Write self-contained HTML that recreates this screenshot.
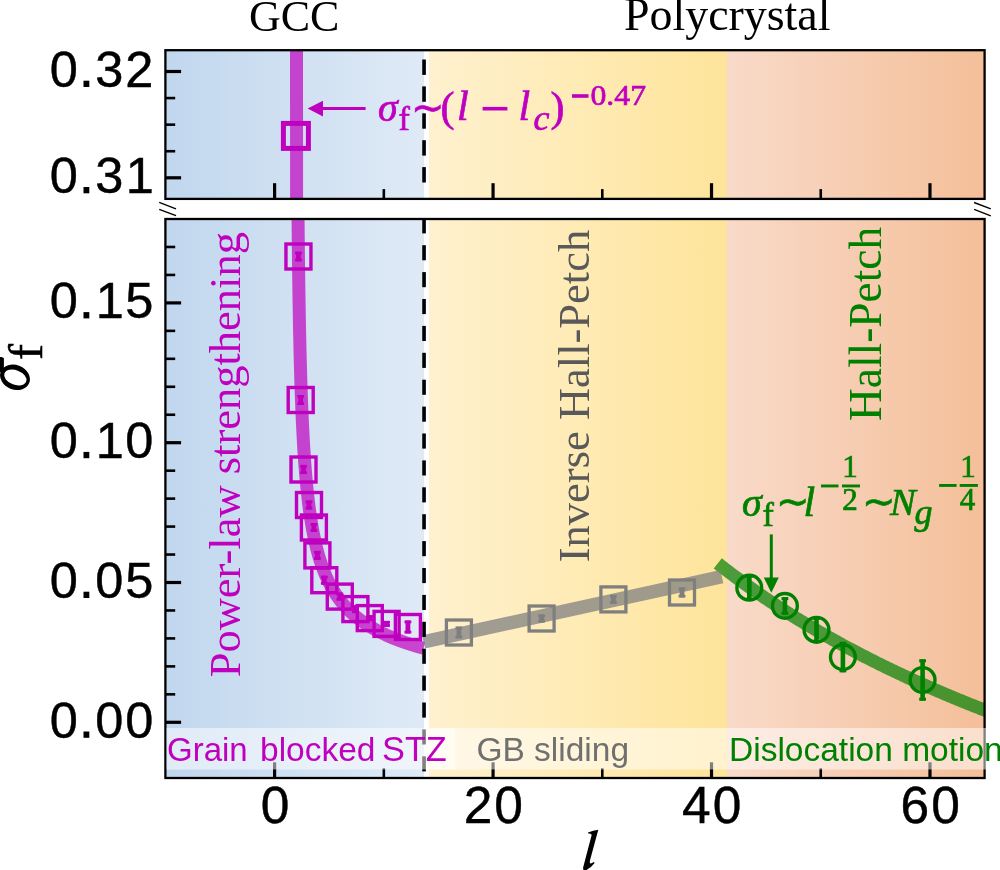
<!DOCTYPE html><html><head><meta charset="utf-8"><style>html,body{margin:0;padding:0;background:#fff;overflow:hidden}svg{display:block;will-change:transform}</style></head><body>
<svg width="1000" height="870" viewBox="0 0 1000 870">
<defs>
<linearGradient id="gb" x1="0" x2="1" y1="0" y2="0"><stop offset="0" stop-color="#c1d7ee"/><stop offset="1" stop-color="#dfeaf6"/></linearGradient>
<linearGradient id="gy" x1="0" x2="1" y1="0" y2="0"><stop offset="0" stop-color="#fff1cf"/><stop offset="1" stop-color="#fee49a"/></linearGradient>
<linearGradient id="gs" x1="0" x2="1" y1="0" y2="0"><stop offset="0" stop-color="#f9dac9"/><stop offset="1" stop-color="#f4bf99"/></linearGradient>
<clipPath id="ct"><rect x="165.4" y="50.2" width="819.2" height="148.7"/></clipPath>
<clipPath id="cl"><rect x="165.4" y="219.0" width="819.2" height="559.0"/></clipPath>
</defs>
<rect x="165.4" y="50.2" width="258.70000000000005" height="148.7" fill="url(#gb)"/>
<rect x="429.0" y="50.2" width="298.0" height="148.7" fill="url(#gy)"/>
<rect x="727.0" y="50.2" width="257.6" height="148.7" fill="url(#gs)"/>
<rect x="165.4" y="219.0" width="258.70000000000005" height="559.0" fill="url(#gb)"/>
<rect x="429.0" y="219.0" width="298.0" height="559.0" fill="url(#gy)"/>
<rect x="727.0" y="219.0" width="257.6" height="559.0" fill="url(#gs)"/>
<g clip-path="url(#cl)"><polyline points="296.29,-396.10 296.29,-392.64 296.29,-389.18 296.29,-385.72 296.30,-382.26 296.30,-378.80 296.30,-375.34 296.30,-371.88 296.31,-368.42 296.31,-364.96 296.31,-361.50 296.32,-358.04 296.32,-354.58 296.32,-351.12 296.32,-347.66 296.33,-344.20 296.33,-340.74 296.33,-337.28 296.34,-333.82 296.34,-330.36 296.34,-326.90 296.35,-323.44 296.35,-319.98 296.35,-316.52 296.36,-313.06 296.36,-309.60 296.36,-306.14 296.37,-302.68 296.37,-299.22 296.37,-295.76 296.38,-292.30 296.38,-288.84 296.38,-285.38 296.39,-281.92 296.39,-278.46 296.39,-275.00 296.40,-271.54 296.40,-268.08 296.41,-264.62 296.41,-261.16 296.41,-257.70 296.42,-254.24 296.42,-250.78 296.43,-247.32 296.43,-243.86 296.43,-240.40 296.44,-236.94 296.44,-233.48 296.45,-230.02 296.45,-226.56 296.46,-223.10 296.46,-219.64 296.46,-216.18 296.47,-212.72 296.47,-209.26 296.48,-205.80 296.48,-202.34 296.49,-198.88 296.49,-195.42 296.50,-191.96 296.50,-188.50 296.51,-185.04 296.51,-181.58 296.52,-178.12 296.52,-174.66 296.53,-171.20 296.53,-167.74 296.54,-164.28 296.54,-160.82 296.55,-157.36 296.56,-153.90 296.56,-150.44 296.57,-146.98 296.57,-143.52 296.58,-140.06 296.58,-136.61 296.59,-133.15 296.60,-129.69 296.60,-126.23 296.61,-122.77 296.61,-119.31 296.62,-115.85 296.63,-112.39 296.63,-108.93 296.64,-105.47 296.65,-102.01 296.65,-98.55 296.66,-95.09 296.67,-91.63 296.68,-88.17 296.68,-84.71 296.69,-81.25 296.70,-77.79 296.70,-74.33 296.71,-70.87 296.72,-67.41 296.73,-63.95 296.74,-60.49 296.74,-57.03 296.75,-53.57 296.76,-50.11 296.77,-46.65 296.78,-43.19 296.79,-39.73 296.79,-36.27 296.80,-32.81 296.81,-29.35 296.82,-25.89 296.83,-22.43 296.84,-18.97 296.85,-15.51 296.86,-12.05 296.87,-8.59 296.88,-5.13 296.89,-1.67 296.90,1.79 296.91,5.25 296.92,8.71 296.93,12.17 296.94,15.63 296.95,19.09 296.96,22.55 296.98,26.01 296.99,29.47 297.00,32.93 297.01,36.39 297.02,39.85 297.04,43.31 297.05,46.77 297.06,50.23 297.07,53.69 297.09,57.15 297.10,60.61 297.11,64.07 297.13,67.53 297.14,70.99 297.16,74.45 297.17,77.91 297.19,81.37 297.20,84.83 297.22,88.29 297.23,91.75 297.25,95.21 297.26,98.67 297.28,102.13 297.30,105.59 297.31,109.05 297.33,112.51 297.35,115.97 297.37,119.43 297.38,122.89 297.40,126.35 297.42,129.81 297.44,133.27 297.46,136.73 297.48,140.19 297.50,143.65 297.52,147.11 297.54,150.57 297.56,154.03 297.59,157.49 297.61,160.95 297.63,164.41 297.65,167.87 297.68,171.33 297.70,174.79 297.73,178.25 297.75,181.71 297.78,185.17 297.80,188.63 297.83,192.09 297.86,195.55 297.88,199.01 297.91,202.47 297.94,205.93 297.97,209.39 298.00,212.85 298.03,216.31 298.06,219.77 298.10,223.23 298.13,226.69 298.16,230.15 298.20,233.61 298.23,237.07 298.27,240.53 298.30,243.99 298.34,247.45 298.38,250.91 298.42,254.37 298.46,257.83 298.50,261.29 298.54,264.75 298.59,268.21 298.63,271.67 298.68,275.13 298.72,278.59 298.77,282.05 298.82,285.51 298.87,288.97 298.92,292.43 298.97,295.89 299.03,299.35 299.08,302.81 299.14,306.27 299.20,309.73 299.26,313.19 299.32,316.65 299.38,320.11 299.45,323.57 299.51,327.03 299.58,330.49 299.65,333.95 299.72,337.41 299.80,340.87 299.88,344.33 299.95,347.79 300.04,351.25 300.12,354.71 300.21,358.17 300.29,361.63 300.39,365.09 300.48,368.55 300.58,372.01 300.68,375.47 300.78,378.93 300.89,382.38 301.00,385.84 301.11,389.30 301.23,392.76 301.35,396.22 301.47,399.68 301.60,403.14 301.74,406.60 301.88,410.06 302.02,413.52 302.17,416.98 302.32,420.44 302.48,423.90 302.65,427.36 302.82,430.82 303.00,434.28 303.18,437.74 303.38,441.20 303.58,444.66 303.78,448.12 304.00,451.58 304.22,455.04 304.46,458.50 304.70,461.96 304.96,465.42 305.22,468.88 305.50,472.34 305.79,475.80 306.09,479.26 306.41,482.72 306.74,486.18 307.08,489.64 307.45,493.10 307.83,496.56 308.23,500.02 308.64,503.48 309.08,506.94 309.55,510.40 310.03,513.86 310.55,517.32 311.09,520.78 311.66,524.24 312.26,527.70 312.90,531.16 313.57,534.62 314.29,538.08 315.04,541.54 315.85,545.00 316.70,548.46 317.61,551.92 318.58,555.38 319.62,558.84 320.72,562.30 321.90,565.76 323.17,569.22 324.53,572.68 325.99,576.14 327.57,579.60 329.26,583.06 331.10,586.52 333.09,589.98 335.24,593.44 337.59,596.90 340.15,600.36 342.94,603.82 346.01,607.28 349.37,610.74 353.08,614.20 357.18,617.66 361.72,621.12 366.78,624.58 372.43,628.04 378.77,631.50 385.92,634.96 394.00,638.42 394.15,638.48 394.30,638.54 394.45,638.60 394.60,638.66 394.74,638.72 394.89,638.78 395.04,638.83 395.19,638.89 395.34,638.95 395.49,639.01 395.64,639.07 395.78,639.13 395.93,639.19 396.08,639.24 396.23,639.30 396.38,639.36 396.53,639.42 396.68,639.47 396.83,639.53 396.97,639.59 397.12,639.65 397.27,639.70 397.42,639.76 397.57,639.82 397.72,639.87 397.87,639.93 398.02,639.99 398.16,640.04 398.31,640.10 398.46,640.15 398.61,640.21 398.76,640.27 398.91,640.32 399.06,640.38 399.20,640.43 399.35,640.49 399.50,640.54 399.65,640.60 399.80,640.65 399.95,640.71 400.10,640.76 400.25,640.82 400.39,640.87 400.54,640.93 400.69,640.98 400.84,641.04 400.99,641.09 401.14,641.14 401.29,641.20 401.43,641.25 401.58,641.30 401.73,641.36 401.88,641.41 402.03,641.46 402.18,641.52 402.33,641.57 402.48,641.62 402.62,641.68 402.77,641.73 402.92,641.78 403.07,641.83 403.22,641.89 403.37,641.94 403.52,641.99 403.67,642.04 403.81,642.10 403.96,642.15 404.11,642.20 404.26,642.25 404.41,642.30 404.56,642.35 404.71,642.41 404.85,642.46 405.00,642.51 405.15,642.56 405.30,642.61 405.45,642.66 405.60,642.71 405.75,642.76 405.90,642.81 406.04,642.86 406.19,642.91 406.34,642.96 406.49,643.01 406.64,643.06 406.79,643.11 406.94,643.16 407.09,643.21 407.23,643.26 407.38,643.31 407.53,643.36 407.68,643.41 407.83,643.46 407.98,643.51 408.13,643.56 408.27,643.61 408.42,643.66 408.57,643.71 408.72,643.75 408.87,643.80 409.02,643.85 409.17,643.90 409.32,643.95 409.46,644.00 409.61,644.04 409.76,644.09 409.91,644.14 410.06,644.19 410.21,644.24 410.36,644.28 410.51,644.33 410.65,644.38 410.80,644.43 410.95,644.47 411.10,644.52 411.25,644.57 411.40,644.61 411.55,644.66 411.69,644.71 411.84,644.76 411.99,644.80 412.14,644.85 412.29,644.90 412.44,644.94 412.59,644.99 412.74,645.03 412.88,645.08 413.03,645.13 413.18,645.17 413.33,645.22 413.48,645.26 413.63,645.31 413.78,645.36 413.92,645.40 414.07,645.45 414.22,645.49 414.37,645.54 414.52,645.58 414.67,645.63 414.82,645.67 414.97,645.72 415.11,645.76 415.26,645.81 415.41,645.85 415.56,645.90 415.71,645.94 415.86,645.99 416.01,646.03 416.16,646.07 416.30,646.12 416.45,646.16 416.60,646.21 416.75,646.25 416.90,646.30 417.05,646.34 417.20,646.38 417.34,646.43 417.49,646.47 417.64,646.51 417.79,646.56 417.94,646.60 418.09,646.64 418.24,646.69 418.39,646.73 418.53,646.77 418.68,646.82 418.83,646.86 418.98,646.90 419.13,646.94 419.28,646.99 419.43,647.03 419.58,647.07 419.72,647.12 419.87,647.16 420.02,647.20 420.17,647.24 420.32,647.28 420.47,647.33 420.62,647.37 420.76,647.41 420.91,647.45 421.06,647.49 421.21,647.54 421.36,647.58 421.51,647.62 421.66,647.66 421.81,647.70 421.95,647.74 422.10,647.78 422.25,647.83 422.40,647.87 422.55,647.91 422.70,647.95 422.85,647.99 422.99,648.03 423.14,648.07 423.29,648.11 423.44,648.15 423.59,648.19" fill="none" stroke="#bf00bf" stroke-opacity="0.7" stroke-width="13" stroke-linejoin="round"/></g>
<g clip-path="url(#ct)"><polyline points="296.42,-239.58 296.42,-226.42 296.43,-213.27 296.43,-200.12 296.43,-186.96 296.44,-173.81 296.44,-160.65 296.45,-147.50 296.45,-134.35 296.46,-121.19 296.46,-108.04 296.46,-94.88 296.47,-81.73 296.47,-68.57 296.48,-55.42 296.48,-42.27 296.49,-29.11 296.49,-15.96 296.50,-2.80 296.50,10.35 296.51,23.51 296.51,36.66 296.52,49.81 296.52,62.97 296.53,76.12 296.53,89.28 296.54,102.43 296.54,115.58 296.55,128.74 296.56,141.89 296.56,155.05 296.57,168.20 296.57,181.36 296.58,194.51 296.58,207.66 296.59,220.82 296.60,233.97 296.60,247.13 296.61,260.28 296.61,273.43 296.62,286.59 296.63,299.74 296.63,312.90 296.64,326.05 296.65,339.21 296.65,352.36 296.66,365.51 296.67,378.67 296.68,391.82 296.68,404.98 296.69,418.13 296.70,431.28 296.70,444.44 296.71,457.59 296.72,470.75 296.73,483.90 296.74,497.06 296.74,510.21 296.75,523.36 296.76,536.52 296.77,549.67 296.78,562.83 296.79,575.98 296.79,589.13 296.80,602.29 296.81,615.44 296.82,628.60 296.83,641.75 296.84,654.91 296.85,668.06 296.86,681.21 296.87,694.37 296.88,707.52 296.89,720.68 296.90,733.83 296.91,746.98 296.92,760.14 296.93,773.29 296.94,786.45 296.95,799.60 296.96,812.76 296.98,825.91 296.99,839.06 297.00,852.22 297.01,865.37 297.02,878.53 297.04,891.68 297.05,904.84 297.06,917.99 297.07,931.14 297.09,944.30 297.10,957.45 297.11,970.61 297.13,983.76 297.14,996.91 297.16,1010.07 297.17,1023.22 297.19,1036.38 297.20,1049.53 297.22,1062.69 297.23,1075.84 297.25,1088.99 297.26,1102.15 297.28,1115.30 297.30,1128.46 297.31,1141.61 297.33,1154.76 297.35,1167.92 297.37,1181.07 297.38,1194.23 297.40,1207.38 297.42,1220.54 297.44,1233.69 297.46,1246.84 297.48,1260.00 297.50,1273.15 297.52,1286.31 297.54,1299.46 297.56,1312.61 297.59,1325.77 297.61,1338.92 297.63,1352.08 297.65,1365.23 297.68,1378.39 297.70,1391.54 297.73,1404.69 297.75,1417.85 297.78,1431.00 297.80,1444.16 297.83,1457.31 297.86,1470.46 297.88,1483.62 297.91,1496.77 297.94,1509.93 297.97,1523.08 298.00,1536.24 298.03,1549.39 298.06,1562.54 298.10,1575.70 298.13,1588.85 298.16,1602.01 298.20,1615.16 298.23,1628.32 298.27,1641.47 298.30,1654.62 298.34,1667.78 298.38,1680.93 298.42,1694.09 298.46,1707.24 298.50,1720.39 298.54,1733.55 298.59,1746.70 298.63,1759.86 298.68,1773.01 298.72,1786.17 298.77,1799.32 298.82,1812.47 298.87,1825.63 298.92,1838.78 298.97,1851.94 299.03,1865.09 299.08,1878.24 299.14,1891.40 299.20,1904.55 299.26,1917.71 299.32,1930.86 299.38,1944.02 299.45,1957.17 299.51,1970.32 299.58,1983.48 299.65,1996.63 299.72,2009.79 299.80,2022.94 299.88,2036.09 299.95,2049.25 300.04,2062.40 300.12,2075.56 300.21,2088.71 300.29,2101.87 300.39,2115.02 300.48,2128.17 300.58,2141.33 300.68,2154.48 300.78,2167.64 300.89,2180.79 301.00,2193.94 301.11,2207.10 301.23,2220.25 301.35,2233.41 301.47,2246.56 301.60,2259.72 301.74,2272.87 301.88,2286.02 302.02,2299.18 302.17,2312.33 302.32,2325.49 302.48,2338.64 302.65,2351.79 302.82,2364.95 303.00,2378.10 303.18,2391.26 303.38,2404.41 303.58,2417.57 303.78,2430.72 304.00,2443.87 304.22,2457.03 304.46,2470.18 304.70,2483.34 304.96,2496.49 305.22,2509.65 305.50,2522.80 305.79,2535.95 306.09,2549.11 306.41,2562.26 306.74,2575.42 307.08,2588.57 307.45,2601.72 307.83,2614.88 308.23,2628.03 308.64,2641.19 309.08,2654.34 309.55,2667.50 310.03,2680.65 310.55,2693.80 311.09,2706.96 311.66,2720.11 312.26,2733.27 312.90,2746.42 313.57,2759.57 314.29,2772.73 315.04,2785.88 315.85,2799.04 316.70,2812.19 317.61,2825.35 318.58,2838.50 319.62,2851.65 320.72,2864.81 321.90,2877.96 323.17,2891.12 324.53,2904.27 325.99,2917.42 327.57,2930.58 329.26,2943.73 331.10,2956.89 333.09,2970.04 335.24,2983.20 337.59,2996.35 340.15,3009.50 342.94,3022.66 346.01,3035.81 349.37,3048.97 353.08,3062.12 357.18,3075.27 361.72,3088.43 366.78,3101.58 372.43,3114.74 378.77,3127.89 385.92,3141.05 394.00,3154.20 394.15,3154.43 394.30,3154.65 394.45,3154.88 394.60,3155.10 394.74,3155.33 394.89,3155.55 395.04,3155.78 395.19,3156.00 395.34,3156.22 395.49,3156.45 395.64,3156.67 395.78,3156.89 395.93,3157.11 396.08,3157.33 396.23,3157.55 396.38,3157.77 396.53,3157.99 396.68,3158.21 396.83,3158.43 396.97,3158.64 397.12,3158.86 397.27,3159.08 397.42,3159.29 397.57,3159.51 397.72,3159.73 397.87,3159.94 398.02,3160.15 398.16,3160.37 398.31,3160.58 398.46,3160.79 398.61,3161.01 398.76,3161.22 398.91,3161.43 399.06,3161.64 399.20,3161.85 399.35,3162.06 399.50,3162.27 399.65,3162.48 399.80,3162.69 399.95,3162.90 400.10,3163.11 400.25,3163.32 400.39,3163.52 400.54,3163.73 400.69,3163.94 400.84,3164.14 400.99,3164.35 401.14,3164.55 401.29,3164.76 401.43,3164.96 401.58,3165.17 401.73,3165.37 401.88,3165.57 402.03,3165.77 402.18,3165.98 402.33,3166.18 402.48,3166.38 402.62,3166.58 402.77,3166.78 402.92,3166.98 403.07,3167.18 403.22,3167.38 403.37,3167.58 403.52,3167.78 403.67,3167.98 403.81,3168.17 403.96,3168.37 404.11,3168.57 404.26,3168.76 404.41,3168.96 404.56,3169.16 404.71,3169.35 404.85,3169.55 405.00,3169.74 405.15,3169.93 405.30,3170.13 405.45,3170.32 405.60,3170.51 405.75,3170.71 405.90,3170.90 406.04,3171.09 406.19,3171.28 406.34,3171.47 406.49,3171.66 406.64,3171.85 406.79,3172.04 406.94,3172.23 407.09,3172.42 407.23,3172.61 407.38,3172.80 407.53,3172.99 407.68,3173.18 407.83,3173.36 407.98,3173.55 408.13,3173.74 408.27,3173.92 408.42,3174.11 408.57,3174.29 408.72,3174.48 408.87,3174.66 409.02,3174.85 409.17,3175.03 409.32,3175.22 409.46,3175.40 409.61,3175.58 409.76,3175.77 409.91,3175.95 410.06,3176.13 410.21,3176.31 410.36,3176.49 410.51,3176.67 410.65,3176.85 410.80,3177.03 410.95,3177.21 411.10,3177.39 411.25,3177.57 411.40,3177.75 411.55,3177.93 411.69,3178.11 411.84,3178.29 411.99,3178.46 412.14,3178.64 412.29,3178.82 412.44,3178.99 412.59,3179.17 412.74,3179.35 412.88,3179.52 413.03,3179.70 413.18,3179.87 413.33,3180.05 413.48,3180.22 413.63,3180.39 413.78,3180.57 413.92,3180.74 414.07,3180.91 414.22,3181.09 414.37,3181.26 414.52,3181.43 414.67,3181.60 414.82,3181.77 414.97,3181.95 415.11,3182.12 415.26,3182.29 415.41,3182.46 415.56,3182.63 415.71,3182.80 415.86,3182.96 416.01,3183.13 416.16,3183.30 416.30,3183.47 416.45,3183.64 416.60,3183.81 416.75,3183.97 416.90,3184.14 417.05,3184.31 417.20,3184.47 417.34,3184.64 417.49,3184.81 417.64,3184.97 417.79,3185.14 417.94,3185.30 418.09,3185.47 418.24,3185.63 418.39,3185.79 418.53,3185.96 418.68,3186.12 418.83,3186.28 418.98,3186.45 419.13,3186.61 419.28,3186.77 419.43,3186.93 419.58,3187.10 419.72,3187.26 419.87,3187.42 420.02,3187.58 420.17,3187.74 420.32,3187.90 420.47,3188.06 420.62,3188.22 420.76,3188.38 420.91,3188.54 421.06,3188.70 421.21,3188.86 421.36,3189.01 421.51,3189.17 421.66,3189.33 421.81,3189.49 421.95,3189.65 422.10,3189.80 422.25,3189.96 422.40,3190.12 422.55,3190.27 422.70,3190.43 422.85,3190.58 422.99,3190.74 423.14,3190.89 423.29,3191.05 423.44,3191.20 423.59,3191.36" fill="none" stroke="#bf00bf" stroke-opacity="0.7" stroke-width="13"/></g>
<g clip-path="url(#cl)"><polyline points="717.75,563.37 719.14,564.47 720.54,565.56 721.93,566.65 723.33,567.73 724.73,568.81 726.12,569.88 727.52,570.95 728.91,572.01 730.31,573.07 731.70,574.12 733.10,575.17 734.50,576.21 735.89,577.25 737.29,578.28 738.68,579.31 740.08,580.34 741.48,581.36 742.87,582.37 744.27,583.39 745.66,584.39 747.06,585.39 748.45,586.39 749.85,587.38 751.25,588.37 752.64,589.36 754.04,590.34 755.43,591.31 756.83,592.29 758.23,593.25 759.62,594.22 761.02,595.18 762.41,596.13 763.81,597.08 765.20,598.03 766.60,598.97 768.00,599.91 769.39,600.84 770.79,601.78 772.18,602.70 773.58,603.63 774.98,604.54 776.37,605.46 777.77,606.37 779.16,607.28 780.56,608.18 781.95,609.08 783.35,609.98 784.75,610.87 786.14,611.76 787.54,612.65 788.93,613.53 790.33,614.41 791.73,615.28 793.12,616.16 794.52,617.02 795.91,617.89 797.31,618.75 798.70,619.61 800.10,620.46 801.50,621.31 802.89,622.16 804.29,623.00 805.68,623.84 807.08,624.68 808.48,625.51 809.87,626.34 811.27,627.17 812.66,628.00 814.06,628.82 815.45,629.63 816.85,630.45 818.25,631.26 819.64,632.07 821.04,632.87 822.43,633.68 823.83,634.48 825.23,635.27 826.62,636.07 828.02,636.86 829.41,637.64 830.81,638.43 832.20,639.21 833.60,639.99 835.00,640.76 836.39,641.53 837.79,642.30 839.18,643.07 840.58,643.83 841.98,644.60 843.37,645.35 844.77,646.11 846.16,646.86 847.56,647.61 848.95,648.36 850.35,649.10 851.75,649.85 853.14,650.58 854.54,651.32 855.93,652.06 857.33,652.79 858.73,653.52 860.12,654.24 861.52,654.96 862.91,655.69 864.31,656.40 865.71,657.12 867.10,657.83 868.50,658.54 869.89,659.25 871.29,659.96 872.68,660.66 874.08,661.36 875.48,662.06 876.87,662.75 878.27,663.45 879.66,664.14 881.06,664.83 882.46,665.51 883.85,666.20 885.25,666.88 886.64,667.56 888.04,668.24 889.43,668.91 890.83,669.58 892.23,670.25 893.62,670.92 895.02,671.59 896.41,672.25 897.81,672.91 899.21,673.57 900.60,674.23 902.00,674.88 903.39,675.53 904.79,676.18 906.18,676.83 907.58,677.48 908.98,678.12 910.37,678.76 911.77,679.40 913.16,680.04 914.56,680.67 915.96,681.31 917.35,681.94 918.75,682.57 920.14,683.19 921.54,683.82 922.93,684.44 924.33,685.06 925.73,685.68 927.12,686.30 928.52,686.91 929.91,687.53 931.31,688.14 932.71,688.75 934.10,689.35 935.50,689.96 936.89,690.56 938.29,691.16 939.68,691.76 941.08,692.36 942.48,692.96 943.87,693.55 945.27,694.14 946.66,694.73 948.06,695.32 949.46,695.91 950.85,696.49 952.25,697.08 953.64,697.66 955.04,698.24 956.43,698.81 957.83,699.39 959.23,699.96 960.62,700.54 962.02,701.11 963.41,701.68 964.81,702.24 966.21,702.81 967.60,703.37 969.00,703.93 970.39,704.49 971.79,705.05 973.18,705.61 974.58,706.16 975.98,706.72 977.37,707.27 978.77,707.82 980.16,708.37 981.56,708.92 982.96,709.46 984.35,710.01 985.75,710.55 987.14,711.09 988.54,711.63 989.93,712.16 991.33,712.70 992.73,713.23 994.12,713.77 995.52,714.30" fill="none" stroke="#008000" stroke-opacity="0.7" stroke-width="13"/></g>
<line x1="423.6" y1="641.8" x2="721.9" y2="576.7" stroke="#808080" stroke-opacity="0.75" stroke-width="13.5"/>
<rect x="422.25" y="59.50" width="3.6" height="15.40" fill="#000"/>
<rect x="422.25" y="86.40" width="3.6" height="15.40" fill="#000"/>
<rect x="422.25" y="113.30" width="3.6" height="15.40" fill="#000"/>
<rect x="422.25" y="140.20" width="3.6" height="15.40" fill="#000"/>
<rect x="422.25" y="167.10" width="3.6" height="15.40" fill="#000"/>
<rect x="422.25" y="219.00" width="3.6" height="14.40" fill="#000"/>
<rect x="422.25" y="245.20" width="3.6" height="15.10" fill="#000"/>
<rect x="422.25" y="272.10" width="3.6" height="15.10" fill="#000"/>
<rect x="422.25" y="299.00" width="3.6" height="15.10" fill="#000"/>
<rect x="422.25" y="325.90" width="3.6" height="15.10" fill="#000"/>
<rect x="422.25" y="352.80" width="3.6" height="15.10" fill="#000"/>
<rect x="422.25" y="379.70" width="3.6" height="15.10" fill="#000"/>
<rect x="422.25" y="406.60" width="3.6" height="15.10" fill="#000"/>
<rect x="422.25" y="433.50" width="3.6" height="15.10" fill="#000"/>
<rect x="422.25" y="460.40" width="3.6" height="15.10" fill="#000"/>
<rect x="422.25" y="487.30" width="3.6" height="15.10" fill="#000"/>
<rect x="422.25" y="514.20" width="3.6" height="15.10" fill="#000"/>
<rect x="422.25" y="541.10" width="3.6" height="15.10" fill="#000"/>
<rect x="422.25" y="568.00" width="3.6" height="15.10" fill="#000"/>
<rect x="422.25" y="594.90" width="3.6" height="15.10" fill="#000"/>
<rect x="422.25" y="621.80" width="3.6" height="15.10" fill="#000"/>
<rect x="422.25" y="648.70" width="3.6" height="15.10" fill="#000"/>
<rect x="422.25" y="675.60" width="3.6" height="15.10" fill="#000"/>
<rect x="422.25" y="702.50" width="3.6" height="15.10" fill="#000"/>
<rect x="422.25" y="729.40" width="3.6" height="15.10" fill="#000"/>
<rect x="422.25" y="756.30" width="3.6" height="15.10" fill="#000"/>
<rect x="296.05" y="251.70" width="4.8" height="9.60" fill="#bf00bf"/><rect x="295.05" y="251.70" width="6.8" height="2.8" fill="#bf00bf"/><rect x="295.05" y="258.50" width="6.8" height="2.8" fill="#bf00bf"/>
<rect x="285.95" y="244.00" width="25" height="25" fill="none" stroke="#bf00bf" stroke-width="3.4"/>
<rect x="298.30" y="395.00" width="4.8" height="10.00" fill="#bf00bf"/><rect x="297.30" y="395.00" width="6.8" height="2.8" fill="#bf00bf"/><rect x="297.30" y="402.20" width="6.8" height="2.8" fill="#bf00bf"/>
<rect x="288.20" y="387.50" width="25" height="25" fill="none" stroke="#bf00bf" stroke-width="3.4"/>
<rect x="301.10" y="464.90" width="4.8" height="9.20" fill="#bf00bf"/><rect x="300.10" y="464.90" width="6.8" height="2.8" fill="#bf00bf"/><rect x="300.10" y="471.30" width="6.8" height="2.8" fill="#bf00bf"/>
<rect x="291.00" y="457.00" width="25" height="25" fill="none" stroke="#bf00bf" stroke-width="3.4"/>
<rect x="306.60" y="500.50" width="4.8" height="9.00" fill="#bf00bf"/><rect x="305.60" y="500.50" width="6.8" height="2.8" fill="#bf00bf"/><rect x="305.60" y="506.70" width="6.8" height="2.8" fill="#bf00bf"/>
<rect x="296.50" y="492.50" width="25" height="25" fill="none" stroke="#bf00bf" stroke-width="3.4"/>
<rect x="311.50" y="523.00" width="4.8" height="9.00" fill="#bf00bf"/><rect x="310.50" y="523.00" width="6.8" height="2.8" fill="#bf00bf"/><rect x="310.50" y="529.20" width="6.8" height="2.8" fill="#bf00bf"/>
<rect x="301.40" y="515.00" width="25" height="25" fill="none" stroke="#bf00bf" stroke-width="3.4"/>
<rect x="315.00" y="550.90" width="4.8" height="9.00" fill="#bf00bf"/><rect x="314.00" y="550.90" width="6.8" height="2.8" fill="#bf00bf"/><rect x="314.00" y="557.10" width="6.8" height="2.8" fill="#bf00bf"/>
<rect x="304.90" y="542.90" width="25" height="25" fill="none" stroke="#bf00bf" stroke-width="3.4"/>
<rect x="321.90" y="575.70" width="4.8" height="9.00" fill="#bf00bf"/><rect x="320.90" y="575.70" width="6.8" height="2.8" fill="#bf00bf"/><rect x="320.90" y="581.90" width="6.8" height="2.8" fill="#bf00bf"/>
<rect x="311.80" y="567.70" width="25" height="25" fill="none" stroke="#bf00bf" stroke-width="3.4"/>
<rect x="337.40" y="592.60" width="4.8" height="8.00" fill="#bf00bf"/><rect x="336.40" y="592.60" width="6.8" height="2.8" fill="#bf00bf"/><rect x="336.40" y="597.80" width="6.8" height="2.8" fill="#bf00bf"/>
<rect x="327.30" y="584.10" width="25" height="25" fill="none" stroke="#bf00bf" stroke-width="3.4"/>
<rect x="353.00" y="605.10" width="4.8" height="8.00" fill="#bf00bf"/><rect x="352.00" y="605.10" width="6.8" height="2.8" fill="#bf00bf"/><rect x="352.00" y="610.30" width="6.8" height="2.8" fill="#bf00bf"/>
<rect x="342.90" y="596.60" width="25" height="25" fill="none" stroke="#bf00bf" stroke-width="3.4"/>
<rect x="367.40" y="615.10" width="4.8" height="6.00" fill="#bf00bf"/><rect x="366.40" y="615.10" width="6.8" height="2.8" fill="#bf00bf"/><rect x="366.40" y="618.30" width="6.8" height="2.8" fill="#bf00bf"/>
<rect x="357.30" y="605.60" width="25" height="25" fill="none" stroke="#bf00bf" stroke-width="3.4"/>
<rect x="384.20" y="620.90" width="4.8" height="6.00" fill="#bf00bf"/><rect x="383.20" y="620.90" width="6.8" height="2.8" fill="#bf00bf"/><rect x="383.20" y="624.10" width="6.8" height="2.8" fill="#bf00bf"/>
<rect x="374.10" y="611.40" width="25" height="25" fill="none" stroke="#bf00bf" stroke-width="3.4"/>
<rect x="405.50" y="620.50" width="4.8" height="13.00" fill="#bf00bf"/><rect x="404.50" y="620.50" width="6.8" height="2.8" fill="#bf00bf"/><rect x="404.50" y="630.70" width="6.8" height="2.8" fill="#bf00bf"/>
<rect x="395.40" y="614.50" width="25" height="25" fill="none" stroke="#bf00bf" stroke-width="3.4"/>
<rect x="283.40" y="123.40" width="25" height="25" fill="none" stroke="#bf00bf" stroke-width="5"/>
<rect x="456.50" y="626.60" width="4.8" height="11.80" fill="#7f7f7f"/><rect x="455.50" y="626.60" width="6.8" height="2.8" fill="#7f7f7f"/><rect x="455.50" y="635.60" width="6.8" height="2.8" fill="#7f7f7f"/>
<rect x="446.40" y="620.00" width="25" height="25" fill="none" stroke="#7f7f7f" stroke-width="3.3"/>
<rect x="539.20" y="614.50" width="4.8" height="8.00" fill="#7f7f7f"/><rect x="538.20" y="614.50" width="6.8" height="2.8" fill="#7f7f7f"/><rect x="538.20" y="619.70" width="6.8" height="2.8" fill="#7f7f7f"/>
<rect x="529.10" y="606.00" width="25" height="25" fill="none" stroke="#7f7f7f" stroke-width="3.3"/>
<rect x="611.00" y="594.90" width="4.8" height="9.00" fill="#7f7f7f"/><rect x="610.00" y="594.90" width="6.8" height="2.8" fill="#7f7f7f"/><rect x="610.00" y="601.10" width="6.8" height="2.8" fill="#7f7f7f"/>
<rect x="600.90" y="586.90" width="25" height="25" fill="none" stroke="#7f7f7f" stroke-width="3.3"/>
<rect x="679.60" y="587.50" width="4.8" height="10.00" fill="#7f7f7f"/><rect x="678.60" y="587.50" width="6.8" height="2.8" fill="#7f7f7f"/><rect x="678.60" y="594.70" width="6.8" height="2.8" fill="#7f7f7f"/>
<rect x="669.50" y="580.00" width="25" height="25" fill="none" stroke="#7f7f7f" stroke-width="3.3"/>
<rect x="747.00" y="574.70" width="4.6" height="26.00" fill="#008000"/><rect x="745.90" y="574.70" width="6.8" height="3" fill="#008000"/><rect x="745.90" y="597.70" width="6.8" height="3" fill="#008000"/>
<circle cx="749.3" cy="587.7" r="12.4" fill="none" stroke="#008000" stroke-width="3.4"/>
<rect x="782.60" y="597.10" width="4.6" height="17.60" fill="#008000"/><rect x="781.50" y="597.10" width="6.8" height="3" fill="#008000"/><rect x="781.50" y="611.70" width="6.8" height="3" fill="#008000"/>
<circle cx="784.9" cy="605.9" r="12.4" fill="none" stroke="#008000" stroke-width="3.4"/>
<rect x="814.20" y="616.80" width="4.6" height="26.00" fill="#008000"/><rect x="813.10" y="616.80" width="6.8" height="3" fill="#008000"/><rect x="813.10" y="639.80" width="6.8" height="3" fill="#008000"/>
<circle cx="816.5" cy="629.8" r="12.4" fill="none" stroke="#008000" stroke-width="3.4"/>
<rect x="840.60" y="641.90" width="4.6" height="30.40" fill="#008000"/><rect x="839.50" y="641.90" width="6.8" height="3" fill="#008000"/><rect x="839.50" y="669.30" width="6.8" height="3" fill="#008000"/>
<circle cx="842.9" cy="657.1" r="12.4" fill="none" stroke="#008000" stroke-width="3.4"/>
<rect x="920.30" y="659.30" width="4.6" height="41.40" fill="#008000"/><rect x="919.20" y="659.30" width="6.8" height="3" fill="#008000"/><rect x="919.20" y="697.70" width="6.8" height="3" fill="#008000"/>
<circle cx="922.6" cy="680" r="12.4" fill="none" stroke="#008000" stroke-width="3.4"/>
<line x1="165.4" y1="177.8" x2="181.1" y2="177.8" stroke="#000" stroke-width="3.2"/>
<line x1="165.4" y1="71.49999999999991" x2="181.1" y2="71.49999999999991" stroke="#000" stroke-width="3.2"/>
<line x1="165.4" y1="151.225" x2="175.20000000000002" y2="151.225" stroke="#000" stroke-width="2.6"/>
<line x1="165.4" y1="124.64999999999996" x2="175.20000000000002" y2="124.64999999999996" stroke="#000" stroke-width="2.6"/>
<line x1="165.4" y1="98.07499999999995" x2="175.20000000000002" y2="98.07499999999995" stroke="#000" stroke-width="2.6"/>
<line x1="165.4" y1="722.3" x2="181.1" y2="722.3" stroke="#000" stroke-width="3.2"/>
<line x1="165.4" y1="694.3399999999999" x2="175.20000000000002" y2="694.3399999999999" stroke="#000" stroke-width="2.6"/>
<line x1="165.4" y1="666.38" x2="175.20000000000002" y2="666.38" stroke="#000" stroke-width="2.6"/>
<line x1="165.4" y1="638.42" x2="175.20000000000002" y2="638.42" stroke="#000" stroke-width="2.6"/>
<line x1="165.4" y1="610.4599999999999" x2="175.20000000000002" y2="610.4599999999999" stroke="#000" stroke-width="2.6"/>
<line x1="165.4" y1="582.5" x2="181.1" y2="582.5" stroke="#000" stroke-width="3.2"/>
<line x1="165.4" y1="554.54" x2="175.20000000000002" y2="554.54" stroke="#000" stroke-width="2.6"/>
<line x1="165.4" y1="526.5799999999999" x2="175.20000000000002" y2="526.5799999999999" stroke="#000" stroke-width="2.6"/>
<line x1="165.4" y1="498.61999999999995" x2="175.20000000000002" y2="498.61999999999995" stroke="#000" stroke-width="2.6"/>
<line x1="165.4" y1="470.65999999999997" x2="175.20000000000002" y2="470.65999999999997" stroke="#000" stroke-width="2.6"/>
<line x1="165.4" y1="442.69999999999993" x2="181.1" y2="442.69999999999993" stroke="#000" stroke-width="3.2"/>
<line x1="165.4" y1="414.73999999999995" x2="175.20000000000002" y2="414.73999999999995" stroke="#000" stroke-width="2.6"/>
<line x1="165.4" y1="386.78" x2="175.20000000000002" y2="386.78" stroke="#000" stroke-width="2.6"/>
<line x1="165.4" y1="358.81999999999994" x2="175.20000000000002" y2="358.81999999999994" stroke="#000" stroke-width="2.6"/>
<line x1="165.4" y1="330.8599999999999" x2="175.20000000000002" y2="330.8599999999999" stroke="#000" stroke-width="2.6"/>
<line x1="165.4" y1="302.9" x2="181.1" y2="302.9" stroke="#000" stroke-width="3.2"/>
<line x1="165.4" y1="274.93999999999994" x2="175.20000000000002" y2="274.93999999999994" stroke="#000" stroke-width="2.6"/>
<line x1="165.4" y1="246.9799999999999" x2="175.20000000000002" y2="246.9799999999999" stroke="#000" stroke-width="2.6"/>
<line x1="274.6" y1="198.9" x2="274.6" y2="183.20000000000002" stroke="#000" stroke-width="3.2"/>
<line x1="274.6" y1="778.0" x2="274.6" y2="762.3" stroke="#000" stroke-width="3.2"/>
<line x1="493.06000000000006" y1="198.9" x2="493.06000000000006" y2="183.20000000000002" stroke="#000" stroke-width="3.2"/>
<line x1="493.06000000000006" y1="778.0" x2="493.06000000000006" y2="762.3" stroke="#000" stroke-width="3.2"/>
<line x1="711.52" y1="198.9" x2="711.52" y2="183.20000000000002" stroke="#000" stroke-width="3.2"/>
<line x1="711.52" y1="778.0" x2="711.52" y2="762.3" stroke="#000" stroke-width="3.2"/>
<line x1="929.98" y1="198.9" x2="929.98" y2="183.20000000000002" stroke="#000" stroke-width="3.2"/>
<line x1="929.98" y1="778.0" x2="929.98" y2="762.3" stroke="#000" stroke-width="3.2"/>
<line x1="383.83000000000004" y1="198.9" x2="383.83000000000004" y2="189.1" stroke="#000" stroke-width="2.6"/>
<line x1="383.83000000000004" y1="778.0" x2="383.83000000000004" y2="768.2" stroke="#000" stroke-width="2.6"/>
<line x1="602.29" y1="198.9" x2="602.29" y2="189.1" stroke="#000" stroke-width="2.6"/>
<line x1="602.29" y1="778.0" x2="602.29" y2="768.2" stroke="#000" stroke-width="2.6"/>
<line x1="820.75" y1="198.9" x2="820.75" y2="189.1" stroke="#000" stroke-width="2.6"/>
<line x1="820.75" y1="778.0" x2="820.75" y2="768.2" stroke="#000" stroke-width="2.6"/>
<rect x="165.4" y="50.2" width="819.2" height="148.7" fill="none" stroke="#000" stroke-width="2.3"/>
<rect x="165.4" y="219.0" width="819.2" height="559.0" fill="none" stroke="#000" stroke-width="2.3"/>
<line x1="159.2" y1="202.4" x2="176" y2="208.8" stroke="#000" stroke-width="1.4"/>
<line x1="159.2" y1="209.3" x2="176" y2="215.7" stroke="#000" stroke-width="1.4"/>
<line x1="974.1" y1="202.5" x2="990.8" y2="208.8" stroke="#000" stroke-width="1.4"/>
<line x1="974.1" y1="209.4" x2="990.8" y2="215.8" stroke="#000" stroke-width="1.4"/>
<rect x="166.6" y="728.0" width="288.4" height="41.5" fill="#fff" fill-opacity="0.5"/>
<rect x="429" y="728.0" width="297.79999999999995" height="41.5" fill="#fff" fill-opacity="0.5"/>
<rect x="726.8" y="728.0" width="273.20000000000005" height="41.5" fill="#fff" fill-opacity="0.5"/>
<text x="167" y="761.4" font-family="Liberation Sans, sans-serif" font-size="33.0" fill="#bf00bf">Grain</text>
<text x="260" y="761.4" font-family="Liberation Sans, sans-serif" font-size="33.5" fill="#bf00bf">blocked</text>
<text x="382" y="761.4" font-family="Liberation Sans, sans-serif" font-size="34.3" fill="#bf00bf">STZ</text>
<text x="476.4" y="761.4" font-family="Liberation Sans, sans-serif" font-size="33.5" fill="#707070">GB sliding</text>
<text x="729" y="761.2" font-family="Liberation Sans, sans-serif" font-size="33.5" fill="#008000">Dislocation motion</text>
<text x="63.90" y="87.00" font-family="Liberation Sans, sans-serif" font-size="50.5" text-anchor="middle" stroke="#000" stroke-width="0.45">0</text><rect x="83.50" y="80.70" width="5.8" height="6.3" fill="#000"/><text x="109.30" y="87.00" font-family="Liberation Sans, sans-serif" font-size="50.5" text-anchor="middle" stroke="#000" stroke-width="0.45">3</text><text x="139.30" y="87.00" font-family="Liberation Sans, sans-serif" font-size="50.5" text-anchor="middle" stroke="#000" stroke-width="0.45">2</text>
<text x="63.90" y="193.30" font-family="Liberation Sans, sans-serif" font-size="50.5" text-anchor="middle" stroke="#000" stroke-width="0.45">0</text><rect x="83.50" y="187.00" width="5.8" height="6.3" fill="#000"/><text x="109.30" y="193.30" font-family="Liberation Sans, sans-serif" font-size="50.5" text-anchor="middle" stroke="#000" stroke-width="0.45">3</text><text x="139.90" y="193.30" font-family="Liberation Sans, sans-serif" font-size="50.5" text-anchor="middle" stroke="#000" stroke-width="0.45">1</text>
<text x="63.90" y="318.40" font-family="Liberation Sans, sans-serif" font-size="50.5" text-anchor="middle" stroke="#000" stroke-width="0.45">0</text><rect x="83.50" y="312.10" width="5.8" height="6.3" fill="#000"/><text x="109.90" y="318.40" font-family="Liberation Sans, sans-serif" font-size="50.5" text-anchor="middle" stroke="#000" stroke-width="0.45">1</text><text x="139.30" y="318.40" font-family="Liberation Sans, sans-serif" font-size="50.5" text-anchor="middle" stroke="#000" stroke-width="0.45">5</text>
<text x="63.90" y="458.20" font-family="Liberation Sans, sans-serif" font-size="50.5" text-anchor="middle" stroke="#000" stroke-width="0.45">0</text><rect x="83.50" y="451.90" width="5.8" height="6.3" fill="#000"/><text x="109.90" y="458.20" font-family="Liberation Sans, sans-serif" font-size="50.5" text-anchor="middle" stroke="#000" stroke-width="0.45">1</text><text x="139.30" y="458.20" font-family="Liberation Sans, sans-serif" font-size="50.5" text-anchor="middle" stroke="#000" stroke-width="0.45">0</text>
<text x="63.90" y="598.00" font-family="Liberation Sans, sans-serif" font-size="50.5" text-anchor="middle" stroke="#000" stroke-width="0.45">0</text><rect x="83.50" y="591.70" width="5.8" height="6.3" fill="#000"/><text x="109.30" y="598.00" font-family="Liberation Sans, sans-serif" font-size="50.5" text-anchor="middle" stroke="#000" stroke-width="0.45">0</text><text x="139.30" y="598.00" font-family="Liberation Sans, sans-serif" font-size="50.5" text-anchor="middle" stroke="#000" stroke-width="0.45">5</text>
<text x="63.90" y="737.80" font-family="Liberation Sans, sans-serif" font-size="50.5" text-anchor="middle" stroke="#000" stroke-width="0.45">0</text><rect x="83.50" y="731.50" width="5.8" height="6.3" fill="#000"/><text x="109.30" y="737.80" font-family="Liberation Sans, sans-serif" font-size="50.5" text-anchor="middle" stroke="#000" stroke-width="0.45">0</text><text x="139.30" y="737.80" font-family="Liberation Sans, sans-serif" font-size="50.5" text-anchor="middle" stroke="#000" stroke-width="0.45">0</text>
<text x="275.10" y="823.40" font-family="Liberation Sans, sans-serif" font-size="51.5" text-anchor="middle" stroke="#000" stroke-width="0.45">0</text>
<text x="477.96" y="823.40" font-family="Liberation Sans, sans-serif" font-size="51.5" text-anchor="middle" stroke="#000" stroke-width="0.45">2</text><text x="508.66" y="823.40" font-family="Liberation Sans, sans-serif" font-size="51.5" text-anchor="middle" stroke="#000" stroke-width="0.45">0</text>
<text x="696.42" y="823.40" font-family="Liberation Sans, sans-serif" font-size="51.5" text-anchor="middle" stroke="#000" stroke-width="0.45">4</text><text x="727.12" y="823.40" font-family="Liberation Sans, sans-serif" font-size="51.5" text-anchor="middle" stroke="#000" stroke-width="0.45">0</text>
<text x="914.88" y="823.40" font-family="Liberation Sans, sans-serif" font-size="51.5" text-anchor="middle" stroke="#000" stroke-width="0.45">6</text><text x="945.58" y="823.40" font-family="Liberation Sans, sans-serif" font-size="51.5" text-anchor="middle" stroke="#000" stroke-width="0.45">0</text>
<text transform="translate(240.0,677.3) rotate(-90)" font-family="Liberation Serif, serif" font-size="44.5" fill="#bf00bf">Power-law strengthening</text>
<text transform="translate(589.0,562.2) rotate(-90)" font-family="Liberation Serif, serif" font-size="44.5" fill="#595959">Inverse Hall-Petch</text>
<text transform="translate(881.1,421) rotate(-90)" font-family="Liberation Serif, serif" font-size="45.4" fill="#008000">Hall-Petch</text>
<text x="249" y="31" font-family="Liberation Serif, serif" font-size="44">GCC</text>
<text x="624" y="30.4" font-family="Liberation Serif, serif" font-size="45.9">Polycrystal</text>
<ellipse cx="15" cy="377.3" rx="15.3" ry="12.3" transform="rotate(22 15 377.3)" fill="#000"/>
<ellipse cx="15.3" cy="377.5" rx="11.6" ry="7.3" transform="rotate(20 15.3 377.5)" fill="#fff"/>
<path d="M-1 357.0 L1.5 357.1 L3.9 357.9 L3.9 370.5 L-1 373 Z" fill="#000"/>
<text transform="translate(42,360) rotate(-90)" font-family="Liberation Serif, serif" font-size="48" stroke="#000" stroke-width="0.6">f</text>
<path d="M588.0 832.4 L593.2 830.7 L598.3 829.8 L589.9 860.8 Q589.3 864.2 591.4 863.2 L593.9 862.0 L594.6 862.9 Q590.2 868.6 586.0 870.2 Q582.6 871.2 583.2 867.2 L591.6 835.2 Q591.7 833.2 588.2 833.6 Z" fill="#000"/>
<line x1="322" y1="108.6" x2="365.6" y2="108.6" stroke="#bf00bf" stroke-width="3"/>
<polygon points="307.6,108.6 323,100.8 323,116.4" fill="#bf00bf"/>
<line x1="771.3" y1="534.4" x2="771.3" y2="579" stroke="#008000" stroke-width="3"/>
<polygon points="771.3,592.7 763.8,577.5 778.8,577.5" fill="#008000"/>
<text x="378" y="121" font-family="Liberation Serif, serif" font-size="40" font-style="italic" fill="#bf00bf" stroke="#bf00bf" stroke-width="0.7">σ</text>
<text x="398.5" y="130" font-family="Liberation Serif, serif" font-size="34" fill="#bf00bf" stroke="#bf00bf" stroke-width="0.7">f</text>
<text x="410.5" y="121" font-family="Liberation Serif, serif" font-size="40" fill="#bf00bf" stroke="#bf00bf" stroke-width="0.7">∼</text>
<text x="440.5" y="121" font-family="Liberation Serif, serif" font-size="42" fill="#bf00bf" stroke="#bf00bf" stroke-width="0.7">(</text>
<text x="457" y="119.8" font-family="Liberation Serif, serif" font-size="42" font-style="italic" fill="#bf00bf" stroke="#bf00bf" stroke-width="0.7">l</text>
<rect x="482.6" y="106.9" width="24.8" height="3.6" fill="#bf00bf"/>
<text x="518.5" y="119.8" font-family="Liberation Serif, serif" font-size="42" font-style="italic" fill="#bf00bf" stroke="#bf00bf" stroke-width="0.7">l</text>
<text x="533.5" y="130.4" font-family="Liberation Serif, serif" font-size="36" font-style="italic" fill="#bf00bf" stroke="#bf00bf" stroke-width="0.7">c</text>
<text x="550.5" y="121" font-family="Liberation Serif, serif" font-size="42" fill="#bf00bf" stroke="#bf00bf" stroke-width="0.7">)</text>
<rect x="572" y="94.2" width="16.5" height="3.6" fill="#bf00bf"/>
<text x="590.5" y="105.1" font-family="Liberation Serif, serif" font-size="30" textLength="55.5" lengthAdjust="spacingAndGlyphs" fill="#bf00bf" stroke="#bf00bf" stroke-width="0.7">0.47</text>
<text x="742" y="515.8" font-family="Liberation Serif, serif" font-size="40" font-style="italic" fill="#008000" stroke="#008000" stroke-width="0.7">σ</text>
<text x="762.5" y="525.6" font-family="Liberation Serif, serif" font-size="34" fill="#008000" stroke="#008000" stroke-width="0.7">f</text>
<text x="775.5" y="515" font-family="Liberation Serif, serif" font-size="40" fill="#008000" stroke="#008000" stroke-width="0.7">∼</text>
<text x="803.5" y="515.8" font-family="Liberation Serif, serif" font-size="42" font-style="italic" fill="#008000" stroke="#008000" stroke-width="0.7">l</text>
<rect x="821" y="484.5" width="17.5" height="2.9" fill="#008000"/>
<rect x="842" y="484.5" width="18" height="2.9" fill="#008000"/>
<text x="842.2" y="476.9" font-family="Liberation Serif, serif" font-size="31" fill="#008000" stroke="#008000" stroke-width="0.7">1</text>
<text x="842.3" y="510.2" font-family="Liberation Serif, serif" font-size="31" fill="#008000" stroke="#008000" stroke-width="0.7">2</text>
<text x="862" y="515" font-family="Liberation Serif, serif" font-size="40" fill="#008000" stroke="#008000" stroke-width="0.7">∼</text>
<text x="890" y="514.9" font-family="Liberation Serif, serif" font-size="38.5" font-style="italic" fill="#008000" stroke="#008000" stroke-width="0.7">N</text>
<text x="914.5" y="524" font-family="Liberation Serif, serif" font-size="36" font-style="italic" fill="#008000" stroke="#008000" stroke-width="0.7">g</text>
<rect x="939.1" y="484" width="17.5" height="2.9" fill="#008000"/>
<rect x="959.7" y="484" width="18.2" height="2.9" fill="#008000"/>
<text x="960.3" y="477.3" font-family="Liberation Serif, serif" font-size="31" fill="#008000" stroke="#008000" stroke-width="0.7">1</text>
<text x="959.8" y="510" font-family="Liberation Serif, serif" font-size="31" fill="#008000" stroke="#008000" stroke-width="0.7">4</text>
</svg></body></html>
